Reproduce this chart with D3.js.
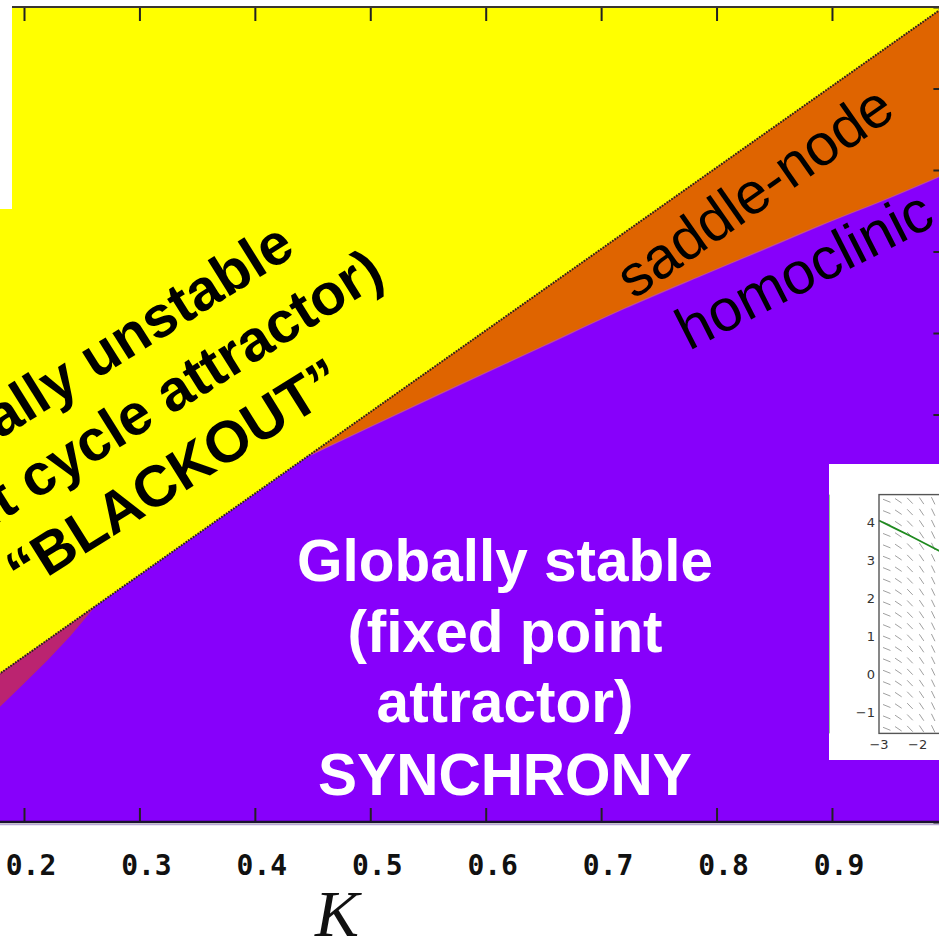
<!DOCTYPE html>
<html>
<head>
<meta charset="utf-8">
<script src="https://cdn.jsdelivr.net/npm/d3@7"></script>
<style>
  html, body { margin: 0; padding: 0; background: #ffffff; }
  svg { display: block; }
</style>
</head>
<body>
<svg id="chart" width="939" height="943"></svg>
<script>
// ---- data -------------------------------------------------------------
// coupling strength K (x) and power P (y) of the bifurcation diagram
const kTicks = [0.2, 0.3, 0.4, 0.5, 0.6, 0.7, 0.8, 0.9];
const kTickLabels = ["0.2", "0.3", "0.4", "0.5", "0.6", "0.7", "0.8", "0.9"];
const pTicks = [0, 0.1, 0.2, 0.3, 0.4, 0.5, 0.6, 0.7, 0.8, 0.9, 1.0];

// saddle-node line (upper edge of the stable / bistable regions)
const saddleK = [0.10, 0.18, 0.30, 0.45, 0.60, 0.75, 0.90, 1.00];
const saddleP = [0.103, 0.183, 0.303, 0.453, 0.603, 0.753, 0.903, 1.003];

// homoclinic curve (lower edge of the bistable wedge)
const homoK = [0.448, 0.50, 0.56, 0.65, 0.72, 0.786, 0.84, 0.89, 0.95, 1.00];
const homoP = [0.450, 0.485, 0.525, 0.584, 0.630, 0.670, 0.702, 0.732, 0.766, 0.796];

// lower edge of the narrow band at small K
const bandK = [0.10, 0.179, 0.20, 0.22, 0.24, 0.262];
const bandP = [0.05, 0.141, 0.170, 0.198, 0.228, 0.265];

// inset: phase portrait (omega on x, theta on y)
const insetXTicks = [-3, -2];
const insetYTicks = [-1, 0, 1, 2, 3, 4];
const orbitW = [-3.0, -2.6, -2.2, -1.8, -1.4];
const orbitT = [4.03, 3.83, 3.63, 3.42, 3.21];
const quiverW = [-2.8, -2.5, -2.2, -1.9, -1.6];
const quiverAngle = [22, 34, 46, 56, 64];      // degrees below horizontal, per column
const quiverT = [-1.45, -1.15, -0.85, -0.55, -0.25, 0.05, 0.35, 0.65, 0.95, 1.25, 1.55,
                 1.85, 2.15, 2.45, 2.75, 3.05, 3.35, 3.65, 3.95, 4.25, 4.55];

// ---- colours ----------------------------------------------------------
const C_YELLOW = "#ffff00";
const C_ORANGE = "#df6400";
const C_PURPLE = "#8700fb";
const C_BAND   = "#bb2470";

// ---- scales -----------------------------------------------------------
const x = d3.scaleLinear().domain([0.2, 1.0]).range([24, 947.4]);
const y = d3.scaleLinear().domain([0, 1]).range([822, 7]);
const saddleAt = d3.scaleLinear().domain(saddleK).range(saddleP);

const svg = d3.select("#chart");

svg.append("defs").append("clipPath").attr("id", "plotClip")
  .append("rect")
  .attr("x", x(0.1)).attr("y", y(1))
  .attr("width", x(1.0) - x(0.1)).attr("height", y(0) - y(1));

const plot = svg.append("g").attr("clip-path", "url(#plotClip)");

// background: globally stable region
plot.append("rect")
  .attr("x", x(0.1)).attr("y", y(1))
  .attr("width", x(1.0) - x(0.1)).attr("height", y(0) - y(1))
  .attr("fill", C_PURPLE);

const lineGen = d3.line().x(d => x(d[0])).y(d => y(d[1]));
const smoothGen = d3.line().x(d => x(d[0])).y(d => y(d[1])).curve(d3.curveMonotoneX);
const saddlePts = saddleK.map((k, i) => [k, saddleP[i]]);
const homoPts = homoK.map((k, i) => [k, homoP[i]]);

// globally unstable region: everything above the saddle-node line
const unstable = [[0.1, 1.05]].concat(saddlePts, [[1.0, 1.05]]);
plot.append("path").attr("d", lineGen(unstable) + "Z").attr("fill", C_YELLOW);

// bistable wedge between saddle-node line and homoclinic curve
const wedgeTop = saddlePts.filter(d => d[0] > homoK[0]).reverse()
  .concat([[homoK[0], saddleAt(homoK[0])]]);
plot.append("path")
  .attr("d", smoothGen(homoPts) + "L" + wedgeTop.map(d => x(d[0]) + "," + y(d[1])).join("L") + "Z")
  .attr("fill", C_ORANGE);

// narrow band at small coupling
const bandTop = saddlePts.filter(d => d[0] < bandK[bandK.length - 1]);
const bandBottom = bandK.map((k, i) => [k, bandP[i]]).reverse();
plot.append("path").attr("d", lineGen(bandTop.concat(bandBottom)) + "Z").attr("fill", C_BAND);

// boundary lines
plot.append("path")
  .attr("d", smoothGen(homoPts))
  .attr("fill", "none").attr("stroke", "#c65a9e").attr("stroke-width", 1.2).attr("opacity", 0.7);
plot.append("path")
  .attr("d", lineGen(saddlePts))
  .attr("fill", "none").attr("stroke", "#2c2412").attr("stroke-width", 2)
  .attr("stroke-dasharray", "1.6,1.3");

// ---- axes ------------------------------------------------------------
function styleAxis(g) {
  g.select(".domain").remove();
  g.selectAll(".tick line").attr("stroke", "#222").attr("stroke-width", 2);
  g.selectAll(".tick text").remove();
}
svg.append("g").attr("transform", `translate(0,${y(1)})`)
  .call(d3.axisBottom(x).tickValues(kTicks).tickSize(14)).call(styleAxis);
svg.append("g").attr("transform", `translate(0,${y(0)})`)
  .call(d3.axisTop(x).tickValues(kTicks).tickSize(14)).call(styleAxis);
svg.append("g").attr("transform", `translate(${x(1.0)},0)`)
  .call(d3.axisLeft(y).tickValues(pTicks).tickSize(14)).call(styleAxis);

// frame lines
svg.append("line").attr("x1", x(0.1)).attr("x2", x(1.0)).attr("y1", y(1)).attr("y2", y(1))
  .attr("stroke", "#3a3630").attr("stroke-width", 2.2);
svg.append("line").attr("x1", x(0.1)).attr("x2", x(1.0)).attr("y1", y(0) + 2.6).attr("y2", y(0) + 2.6)
  .attr("stroke", "#b9a8d8").attr("stroke-width", 1.2);
svg.append("line").attr("x1", x(0.1)).attr("x2", x(1.0)).attr("y1", y(0)).attr("y2", y(0))
  .attr("stroke", "#1b1230").attr("stroke-width", 2.4);

// tick labels in the old bitmap style
svg.append("g").selectAll("text").data(kTicks).join("text")
  .attr("x", d => x(d) + 7).attr("y", 875)
  .attr("text-anchor", "middle")
  .attr("font-family", "'DejaVu Sans Mono', monospace")
  .attr("font-weight", "bold").attr("font-size", 28)
  .attr("fill", "#111")
  .text((d, i) => kTickLabels[i]);

svg.append("text")
  .attr("x", 337).attr("y", 936).attr("text-anchor", "middle")
  .attr("font-family", "'Liberation Serif', 'DejaVu Serif', serif")
  .attr("font-style", "italic").attr("font-size", 66).attr("fill", "#111")
  .text("K");

// ---- region labels ------------------------------------------------------
const unstableLabel = svg.append("g")
  .attr("transform", "translate(151,430) rotate(-32)")
  .attr("font-family", "'Liberation Sans', Arial, sans-serif")
  .attr("font-weight", "bold").attr("font-size", 58).attr("fill", "#000")
  .attr("text-anchor", "middle");
unstableLabel.append("text").attr("x", -24).attr("y", -72).text("Globally unstable");
unstableLabel.append("text").attr("x", -6).attr("y", -2).text("(limit cycle attractor)");
unstableLabel.append("text").attr("x", -4).attr("y", 70).text("\u201CBLACKOUT\u201D");

const stableLabel = svg.append("g")
  .attr("font-family", "'Liberation Sans', Arial, sans-serif")
  .attr("font-weight", "bold").attr("font-size", 58.5).attr("fill", "#ffffff")
  .attr("text-anchor", "middle");
[["Globally stable", 581], ["(fixed point", 652], ["attractor)", 722], ["SYNCHRONY", 795]]
  .forEach(([t, yy]) => stableLabel.append("text").attr("x", 505).attr("y", yy).text(t));

svg.append("text")
  .attr("transform", "translate(634,300) rotate(-35)")
  .attr("font-family", "'Liberation Sans', Arial, sans-serif")
  .attr("font-size", 58.5).attr("fill", "#000")
  .text("saddle-node");

svg.append("text")
  .attr("transform", "translate(689,351) rotate(-27)")
  .attr("font-family", "'Liberation Sans', Arial, sans-serif")
  .attr("font-size", 59).attr("fill", "#000")
  .text("homoclinic");

// white patch in the upper-left corner
svg.append("rect").attr("x", 0).attr("y", 0).attr("width", 12).attr("height", 209).attr("fill", "#fff");
svg.append("rect").attr("x", 0).attr("y", 0).attr("width", 939).attr("height", y(1) - 1.2).attr("fill", "#fff");

// ---- inset phase portrait -------------------------------------------------
const ix = d3.scaleLinear().domain([-3, -2]).range([879, 917.7]);
const iy = d3.scaleLinear().domain([-Math.PI / 2, 3 * Math.PI / 2]).range([733.4, 494.6]);

const inset = svg.append("g");
inset.append("rect").attr("x", 829).attr("y", 464).attr("width", 120).attr("height", 296).attr("fill", "#fff");
inset.append("line").attr("x1", 829.5).attr("x2", 829.5).attr("y1", iy(3 * Math.PI / 2)).attr("y2", iy(-Math.PI / 2))
  .attr("stroke", "#8fd08f").attr("stroke-width", 1);

// direction field
const qCells = [];
quiverW.forEach((w, ci) => quiverT.forEach(t => qCells.push([w, t, quiverAngle[ci]])));
inset.append("g").selectAll("line").data(qCells).join("line")
  .attr("x1", d => ix(d[0]) - 4 * Math.cos(d[2] * Math.PI / 180))
  .attr("y1", d => iy(d[1]) - 4 * Math.sin(d[2] * Math.PI / 180))
  .attr("x2", d => ix(d[0]) + 4 * Math.cos(d[2] * Math.PI / 180))
  .attr("y2", d => iy(d[1]) + 4 * Math.sin(d[2] * Math.PI / 180))
  .attr("stroke", "#a0a0a0").attr("stroke-width", 1);

// trajectory
inset.append("path")
  .attr("d", d3.line().x(d => ix(d[0])).y(d => iy(d[1]))(orbitW.map((w, i) => [w, orbitT[i]])))
  .attr("fill", "none").attr("stroke", "#1f8a1f").attr("stroke-width", 1.8);

// frame
inset.append("rect")
  .attr("x", ix(-3)).attr("y", iy(3 * Math.PI / 2))
  .attr("width", 120).attr("height", iy(-Math.PI / 2) - iy(3 * Math.PI / 2))
  .attr("fill", "none").attr("stroke", "#555").attr("stroke-width", 1.4);

inset.append("g").selectAll("text").data(insetYTicks).join("text")
  .attr("x", ix(-3) - 4).attr("y", d => iy(d) + 5)
  .attr("text-anchor", "end")
  .attr("font-family", "'DejaVu Sans', sans-serif").attr("font-size", 13).attr("fill", "#333")
  .text(d => d < 0 ? "\u2212" + Math.abs(d) : String(d));
inset.append("g").selectAll("text").data(insetXTicks).join("text")
  .attr("x", d => ix(d)).attr("y", 749)
  .attr("text-anchor", "middle")
  .attr("font-family", "'DejaVu Sans', sans-serif").attr("font-size", 13).attr("fill", "#333")
  .text(d => "\u2212" + Math.abs(d));
</script>
</body>
</html>
